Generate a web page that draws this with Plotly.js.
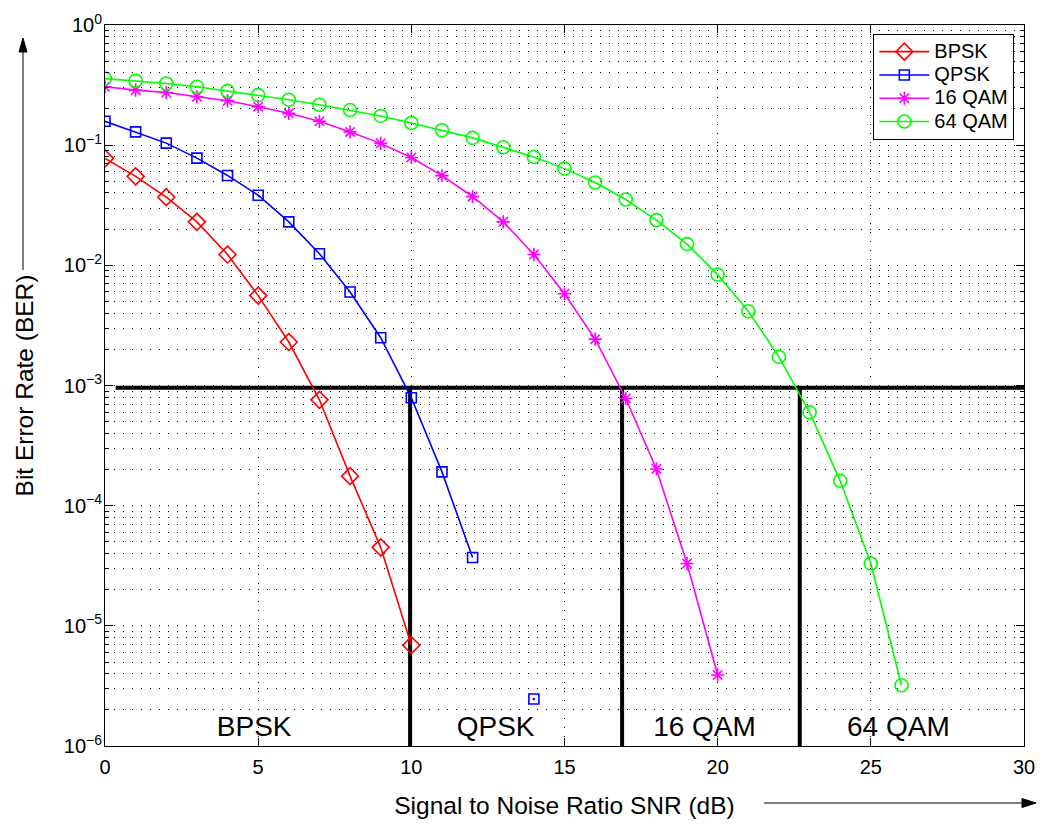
<!DOCTYPE html>
<html><head><meta charset="utf-8">
<script src="https://cdn.plot.ly/plotly-3.0.1.min.js"></script>
<style>body{margin:0;background:#fff}#chart{width:1042px;height:824px}</style>
</head><body><div id="chart"></div>
<script>
// ---- data ----
const bpskSNR = [0,1,2,3,4,5,6,7,8,9,10];
const bpskBER = [0.0777,0.055,0.0369,0.0230,0.0123,0.0056,0.0023,7.6e-4,1.76e-4,4.5e-5,6.9e-6];
const qpskSNR = [0,1,2,3,4,5,6,7,8,9,10,11,12,13,14];
const qpskBER = [0.158,0.129,0.104,0.078,0.056,0.0383,0.023,0.0125,0.0060,0.0025,7.9e-4,1.91e-4,3.7e-5,null,2.46e-6];
const qam16SNR = [0,1,2,3,4,5,6,7,8,9,10,11,12,13,14,15,16,17,18,19,20];
const qam16BER = [0.306,0.287,0.274,0.253,0.234,0.209,0.184,0.158,0.129,0.1035,0.079,0.0558,0.0374,0.023,0.0123,0.0058,0.00243,7.8e-4,2.02e-4,3.3e-5,3.9e-6];
const qam64SNR = [0,1,2,3,4,5,6,7,8,9,10,11,12,13,14,15,16,17,18,19,20,21,22,23,24,25,26];
const qam64BER = [0.358,0.343,0.326,0.306,0.283,0.261,0.239,0.217,0.196,0.175,0.153,0.133,0.115,0.096,0.0798,0.0638,0.0489,0.0353,0.0238,0.0150,0.00837,0.00415,0.00173,5.97e-4,1.61e-4,3.3e-5,3.2e-6];
const seriesNames = ['BPSK','QPSK','16 QAM','64 QAM'];

const thresholdBER = 0.00096;
const thresholdSNRStart = 0.35;
const thresholdSNREnd = 30;
const boundarySNR = [9.96, 16.88, 22.68];
const floorBER = 1e-6;

const regionLabels = ['BPSK','QPSK','16 QAM','64 QAM'];
const regionLabelSNR = [4.87, 12.75, 19.57, 25.9];
const regionLabelBER = 1.39e-6;

const xTitle = 'Signal to Noise Ratio SNR (dB)';
const yTitle = 'Bit Error Rate (BER)';
const yTickVals = [1e-6,1e-5,1e-4,1e-3,1e-2,1e-1,1];
const yTickText = ['10<sup>−6</sup>','10<sup>−5</sup>','10<sup>−4</sup>','10<sup>−3</sup>','10<sup>−2</sup>','10<sup>−1</sup>','10<sup>0</sup>'];

// ---- build ----
const minorVals = [];
for (let e = -6; e < 0; e++) for (let d = 2; d <= 9; d++) minorVals.push(d * Math.pow(10, e));

const vx = [], vy = [];
boundarySNR.forEach(b => { vx.push(b, b, null); vy.push(floorBER, thresholdBER, null); });

const FONT = 'Liberation Sans, Arial, Helvetica, sans-serif';
const legendName = s => '<span style="font-size:20px">' + s + '</span>';
const traces = [
  {x: vx, y: vy, mode: 'lines', line: {color: '#000', width: 4}, showlegend: false, hoverinfo: 'skip'},
  {x: [thresholdSNRStart, thresholdSNREnd], y: [thresholdBER, thresholdBER], mode: 'lines', line: {color: '#000', width: 4}, showlegend: false, hoverinfo: 'skip'},
  {x: bpskSNR, y: bpskBER, name: legendName(seriesNames[0]), mode: 'lines+markers', line: {color: '#ff0000', width: 1.6},
   marker: {symbol: 'diamond-open', size: 13, color: '#ff0000', line: {width: 1.6, color: '#ff0000'}}},
  {x: qpskSNR, y: qpskBER, name: legendName(seriesNames[1]), mode: 'lines+markers', line: {color: '#0000ff', width: 1.6},
   marker: {symbol: qpskSNR.map((v, i) => i === qpskSNR.length - 1 ? 'square-open-dot' : 'square-open'), size: 10, color: '#0000ff', line: {width: 1.6, color: '#0000ff'}}},
  {x: qam16SNR, y: qam16BER, name: legendName(seriesNames[2]), mode: 'lines+markers', line: {color: '#ff00ff', width: 1.6},
   marker: {symbol: 'asterisk-open', size: 11, color: '#ff00ff', line: {width: 1.6, color: '#ff00ff'}}},
  {x: qam64SNR, y: qam64BER, name: legendName(seriesNames[3]), mode: 'lines+markers', line: {color: '#00ff00', width: 1.6},
   marker: {symbol: 'circle-open', size: 13, color: '#00ff00', line: {width: 1.6, color: '#00ff00'}}},
  {x: regionLabelSNR, y: regionLabelSNR.map(() => regionLabelBER), text: regionLabels, mode: 'text', textposition: 'middle center',
   textfont: {family: FONT, size: 28, color: '#000'}, showlegend: false, hoverinfo: 'skip', cliponaxis: false}
];

const W = 919, H = 721, L = 105, T = 25;
const px = p => (p - L) / W;
const py = p => (T + H - p) / H;

const gridDash = '1px,8px';
const layout = {
  width: 1042, height: 824,
  margin: {l: 105, r: 18, t: 25, b: 78},
  paper_bgcolor: '#fff', plot_bgcolor: '#fff',
  font: {family: FONT, color: '#000', size: 20},
  showlegend: true,
  legend: {x: 0.9895, xanchor: 'right', y: 0.9875, yanchor: 'top', bgcolor: '#fff', bordercolor: '#000', borderwidth: 1,
           font: {family: FONT, size: 15.6, color: '#000'}, itemwidth: 50, tracegroupgap: 0},
  xaxis: {
    range: [0, 30], tick0: 0, dtick: 5, ticks: 'inside', ticklen: 8, tickwidth: 1, tickcolor: '#000',
    showline: true, linecolor: '#000', linewidth: 1, mirror: 'ticks', zeroline: false,
    showgrid: true, gridcolor: '#000', gridwidth: 1, griddash: gridDash,
    tickfont: {family: FONT, size: 20, color: '#000'}, ticklabelstandoff: 3,
    title: {text: xTitle, font: {family: FONT, size: 24.5, color: '#000'}, standoff: 19}
  },
  yaxis: {
    type: 'log', range: [-6, 0], tickmode: 'array', tickvals: yTickVals, ticktext: yTickText,
    ticks: 'inside', ticklen: 8, tickwidth: 1, tickcolor: '#000',
    showline: true, linecolor: '#000', linewidth: 1, mirror: 'ticks', zeroline: false,
    showgrid: true, gridcolor: '#000', gridwidth: 1, griddash: gridDash,
    minor: {tickmode: 'array', tickvals: minorVals, ticks: 'inside', ticklen: 4, tickcolor: '#000',
            showgrid: true, gridcolor: '#000', gridwidth: 1, griddash: gridDash},
    tickfont: {family: FONT, size: 20, color: '#000'}, ticklabelstandoff: -2,
    title: {text: yTitle, font: {family: FONT, size: 24.5, color: '#000'}, standoff: 23}
  },
  shapes: [
    {type: 'line', xref: 'paper', yref: 'paper', x0: px(23), x1: px(23), y0: py(270), y1: py(50), line: {color: '#000', width: 1}},
    {type: 'path', xref: 'paper', yref: 'paper', path: `M${px(23)},${py(38)} L${px(19)},${py(52)} L${px(27)},${py(52)} Z`, fillcolor: '#000', line: {color: '#000', width: 1}},
    {type: 'line', xref: 'paper', yref: 'paper', x0: px(764), x1: px(1024), y0: py(803), y1: py(803), line: {color: '#000', width: 1}},
    {type: 'path', xref: 'paper', yref: 'paper', path: `M${px(1036)},${py(803)} L${px(1022)},${py(798.5)} L${px(1022)},${py(807.5)} Z`, fillcolor: '#000', line: {color: '#000', width: 1}}
  ]
};

Plotly.newPlot('chart', traces, layout, {displayModeBar: false, staticPlot: true});
</script></body></html>
